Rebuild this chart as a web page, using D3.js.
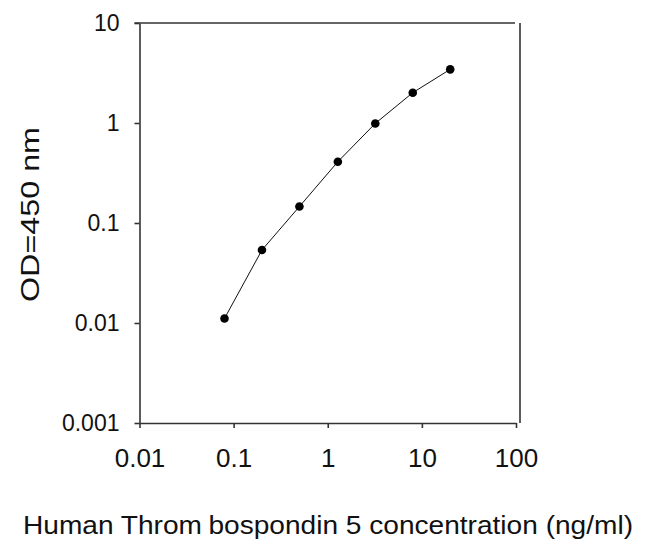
<!DOCTYPE html>
<html>
<head>
<meta charset="utf-8">
<script src="https://cdn.jsdelivr.net/npm/d3@7"></script>
<style>
  html, body { margin: 0; padding: 0; background: #fff; }
  svg { display: block; }
  text { font-family: "Liberation Sans", Arial, sans-serif; fill: #111; }
</style>
</head>
<body>
<svg id="chart" width="646" height="542"></svg>
<script>
// Data
const concentration = [0.08, 0.2, 0.5, 1.28, 3.2, 8, 20];
const od450 = [0.0111, 0.0537, 0.146, 0.41, 0.99, 2.01, 3.44];

const xTickValues = [0.01, 0.1, 1, 10, 100];
const xTickLabels = ["0.01", "0.1", "1", "10", "100"];
const yTickValues = [0.001, 0.01, 0.1, 1, 10];
const yTickLabels = ["0.001", "0.01", "0.1", "1", "10"];

const xTitleParts = ["Human Throm", "bospondin 5 concentration (ng/ml)"];
const yTitle = "OD=450 nm";

(function () {
const svg = d3.select("#chart");
const pLeft = 139.5, pRight = 516, pTop = 23, pBottom = 423;

const x = d3.scaleLog().domain([0.01, 100]).range([pLeft, pRight]);
const y = d3.scaleLog().domain([0.001, 10]).range([pBottom, pTop]);

const axisColor = "#333";
const font = "Liberation Sans, Arial, sans-serif";

// X axis
const gx = svg.append("g")
  .attr("transform", `translate(0,${pBottom})`)
  .call(d3.axisBottom(x).tickValues(xTickValues)
    .tickFormat((d, i) => xTickLabels[i]).tickSize(5).tickSizeOuter(0).tickPadding(21));
gx.select(".domain").attr("stroke", axisColor).attr("stroke-width", 1.6);
gx.selectAll(".tick line").attr("stroke", axisColor).attr("stroke-width", 1.6);
gx.selectAll(".tick text").attr("font-size", 26).attr("fill", "#111").attr("font-family", font);

// Y axis
const gy = svg.append("g")
  .attr("transform", `translate(${pLeft},0)`)
  .call(d3.axisLeft(y).tickValues(yTickValues)
    .tickFormat((d, i) => yTickLabels[i]).tickSize(5).tickSizeOuter(0).tickPadding(15));
gy.select(".domain").attr("stroke", axisColor).attr("stroke-width", 1.6);
gy.selectAll(".tick line").attr("stroke", axisColor).attr("stroke-width", 1.6);
gy.selectAll(".tick text").attr("font-size", 23).attr("fill", "#111").attr("font-family", font);

// Top frame line and separate right frame line
svg.append("line")
  .attr("x1", pLeft - 5).attr("x2", pRight - 1)
  .attr("y1", y(10)).attr("y2", y(10))
  .attr("stroke", axisColor).attr("stroke-width", 1.6);
svg.append("line")
  .attr("x1", pRight + 4).attr("x2", pRight + 4)
  .attr("y1", y(10)).attr("y2", y(0.001))
  .attr("stroke", axisColor).attr("stroke-width", 1.6);

// Curve
const pts = concentration.map((c, i) => [c, od450[i]]);
svg.append("path")
  .datum(pts)
  .attr("fill", "none")
  .attr("stroke", "#111")
  .attr("stroke-width", 1)
  .attr("d", d3.line().x(d => x(d[0])).y(d => y(d[1])));

svg.append("g").selectAll("circle")
  .data(pts)
  .join("circle")
  .attr("cx", d => x(d[0]))
  .attr("cy", d => y(d[1]))
  .attr("r", 4.3)
  .attr("fill", "#000");

// Axis titles
const xt = svg.append("text")
  .attr("x", 328).attr("y", 534)
  .attr("text-anchor", "middle")
  .attr("font-size", 26)
  .attr("textLength", 610)
  .attr("lengthAdjust", "spacingAndGlyphs");
xt.append("tspan").text(xTitleParts[0]);
xt.append("tspan").attr("dx", 6).text(xTitleParts[1]);

svg.append("text")
  .attr("transform", `translate(39,214.5) rotate(-90)`)
  .attr("text-anchor", "middle")
  .attr("font-size", 26)
  .attr("textLength", 175)
  .attr("lengthAdjust", "spacingAndGlyphs")
  .text(yTitle);
})();
</script>
</body>
</html>
